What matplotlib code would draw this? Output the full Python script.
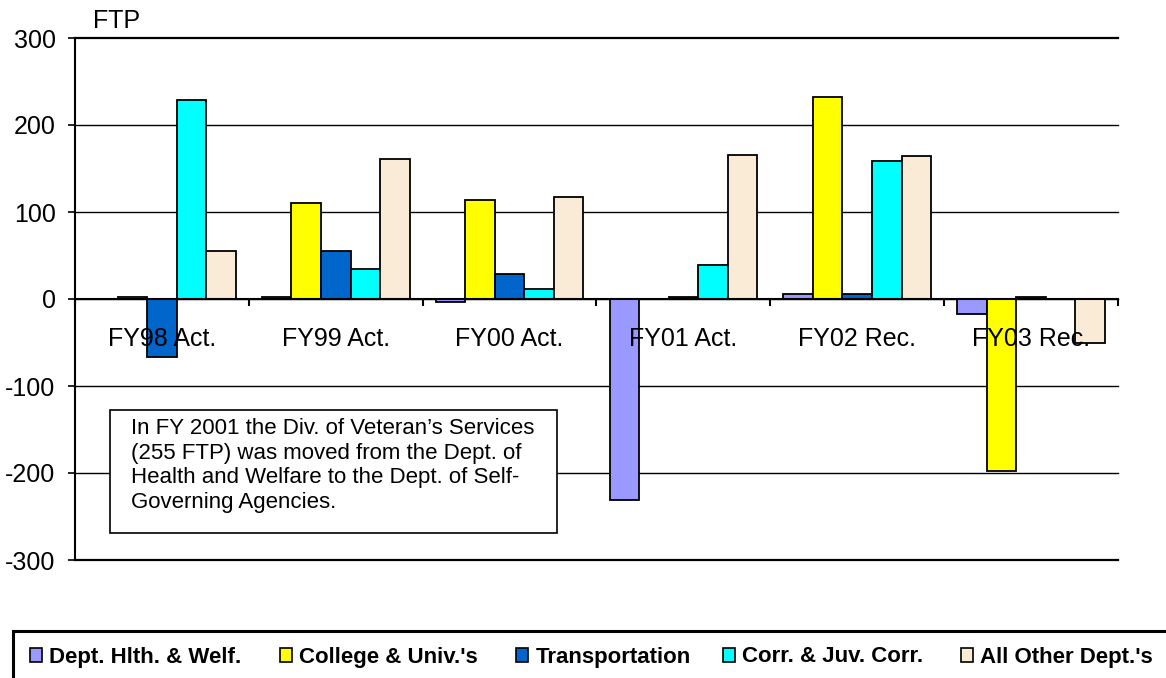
import numpy as np
import matplotlib
matplotlib.use("Agg")
import matplotlib.pyplot as plt
from matplotlib.patches import Rectangle, Patch

plt.rcParams['font.family'] = ['Liberation Sans', 'DejaVu Sans']

# Données (FTP)
categories = ['FY98 Act.', 'FY99 Act.', 'FY00 Act.', 'FY01 Act.', 'FY02 Rec.', 'FY03 Rec.']
series_names = ['Dept. Hlth. & Welf.', "College & Univ.'s", 'Transportation',
                'Corr. & Juv. Corr.', "All Other Dept.'s"]
hlth = [0, 2, -3, -231, 6, -17]
college = [2, 110, 114, 0, 232, -198]
transport = [-67, 55, 29, 2, 6, 2]
corr = [229, 34, 11, 39, 159, 0]
other = [55, 161, 117, 166, 164, -51]
values = [hlth, college, transport, corr, other]
colors = ['#9999FF', '#FFFF00', '#0066CC', '#00FFFF', '#FAEBD7']
yticks = [-300, -200, -100, 0, 100, 200, 300]

W, H = 1166, 678
fig = plt.figure(figsize=(W / 100, H / 100), dpi=100)
ax = fig.add_axes([75 / W, 1 - 560 / H, (1118 - 75) / W, (560 - 38) / H])

n = len(series_names)
x = np.arange(len(categories))
width = 0.85 / n
for i, (vals, col) in enumerate(zip(values, colors)):
    ax.bar(x - 0.425 + width * (i + 0.5), vals, width, color=col,
           edgecolor='black', linewidth=1.3, zorder=2)

ax.set_xlim(-0.5, len(categories) - 0.5)
ax.set_ylim(-300, 300)
ax.set_axisbelow(False)
for v in yticks:
    lw = 1.6 if v in (-300, 300) else 1.0
    ax.axhline(v, color='black', linewidth=lw, zorder=0.5, clip_on=False)
ax.set_yticks(yticks)
ax.set_yticklabels([str(v) for v in yticks], fontsize=18)
ax.tick_params(axis='y', length=5, width=1.2, pad=9)

# axe X sur la ligne zéro
ax.spines['bottom'].set_position(('data', 0))
ax.spines['top'].set_visible(False)
ax.spines['right'].set_visible(False)
ax.spines['left'].set_linewidth(1.5)
ax.spines['bottom'].set_linewidth(1.5)
ax.set_xticks(x)
ax.set_xticklabels(categories, fontsize=18)
ax.tick_params(axis='x', which='major', length=0, pad=20)
ax.set_xticks(np.arange(len(categories) + 1) - 0.5, minor=True)
ax.tick_params(axis='x', which='minor', length=5, width=1.5, direction='out')

fig.text(93 / W, 1 - 21 / H, 'FTP', fontsize=18, va='center', ha='left')

note = ("In FY 2001 the Div. of Veteran\u2019s Services\n(255 FTP) was moved from the Dept. of\n"
        "Health and Welfare to the Dept. of Self-\nGoverning Agencies.")
fig.patches.append(Rectangle((110 / W, 1 - 533 / H), 447 / W, 123 / H,
                             transform=fig.transFigure, facecolor='white',
                             edgecolor='black', linewidth=1.2, zorder=10))
fig.text(131 / W, 1 - 418 / H, note, fontsize=16, va='top', ha='left',
         linespacing=1.22, zorder=11)

# légende en bas : cadre + une entrée par série
fig.patches.append(Rectangle((13 / W, -0.05), 1.0, (H - 631) / H + 0.05,
                             transform=fig.transFigure, facecolor='white',
                             edgecolor='black', linewidth=2.2, zorder=1))
legend_x = [30, 280, 516, 723, 961]
for name, col, lx in zip(series_names, colors, legend_x):
    h = Patch(facecolor=col, edgecolor='black', linewidth=1.2)
    fig.legend([h], [name], loc='center left', frameon=False,
               bbox_to_anchor=(lx / W, 1 - 657 / H), borderpad=0, borderaxespad=0,
               prop={'weight': 'bold', 'size': 16},
               handlelength=0.55, handleheight=0.6, handletextpad=0.32)

fig.savefig('out.png', dpi=100)
